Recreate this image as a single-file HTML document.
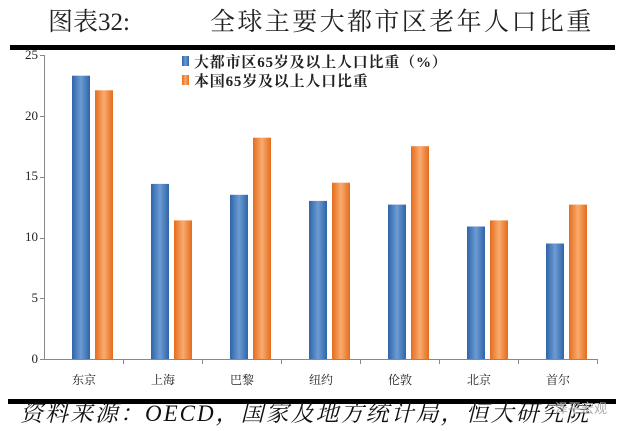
<!DOCTYPE html><html><head><style>body{margin:0;background:#fff;width:620px;height:426px;overflow:hidden}</style></head><body>
<svg width="620" height="426" xmlns="http://www.w3.org/2000/svg">
<defs>
<linearGradient id="b" x1="0" x2="1"><stop offset="0" stop-color="#2e64a8"/><stop offset="0.5" stop-color="#6d9bd3"/><stop offset="1" stop-color="#2e64a8"/></linearGradient>
<linearGradient id="o" x1="0" x2="1"><stop offset="0" stop-color="#e46c1e"/><stop offset="0.5" stop-color="#f9ab6e"/><stop offset="1" stop-color="#e46c1e"/></linearGradient>
</defs>
<g font-family="Liberation Serif, Noto Serif CJK SC, serif" font-size="25" fill="#222">
<text x="48" y="30">图表32:</text>
<text x="210" y="30" letter-spacing="2.4">全球主要大都市区老年人口比重</text>
</g>
<rect x="10" y="45" width="605" height="5" fill="#000"/>
<g font-family="Liberation Serif, serif" font-size="13" fill="#222" text-anchor="end">
<text x="38" y="363">0</text><text x="38" y="302">5</text><text x="38" y="241">10</text><text x="38" y="180">15</text><text x="38" y="120">20</text><text x="38" y="59">25</text>
</g>
<g stroke="#888" stroke-width="1">
<line x1="44.5" y1="55" x2="44.5" y2="359"/>
<line x1="40" y1="55.5" x2="44" y2="55.5"/><line x1="40" y1="116.5" x2="44" y2="116.5"/><line x1="40" y1="177.5" x2="44" y2="177.5"/><line x1="40" y1="238.5" x2="44" y2="238.5"/><line x1="40" y1="298.5" x2="44" y2="298.5"/>
<line x1="40" y1="359.5" x2="598" y2="359.5"/>
<line x1="123.5" y1="359" x2="123.5" y2="364"/><line x1="202.5" y1="359" x2="202.5" y2="364"/><line x1="281.5" y1="359" x2="281.5" y2="364"/><line x1="360.5" y1="359" x2="360.5" y2="364"/><line x1="439.5" y1="359" x2="439.5" y2="364"/><line x1="518.5" y1="359" x2="518.5" y2="364"/><line x1="597.5" y1="359" x2="597.5" y2="364"/>
</g>
<g>
<rect x="72" y="75.7" width="18" height="283.3" fill="url(#b)"/><rect x="95" y="90.3" width="18" height="268.7" fill="url(#o)"/>
<rect x="151" y="183.9" width="18" height="175.1" fill="url(#b)"/><rect x="174" y="220.4" width="18" height="138.6" fill="url(#o)"/>
<rect x="230" y="194.8" width="18" height="164.2" fill="url(#b)"/><rect x="253" y="137.7" width="18" height="221.3" fill="url(#o)"/>
<rect x="309" y="200.9" width="18" height="158.1" fill="url(#b)"/><rect x="332" y="182.7" width="18" height="176.3" fill="url(#o)"/>
<rect x="388" y="204.6" width="18" height="154.4" fill="url(#b)"/><rect x="411" y="146.2" width="18" height="212.8" fill="url(#o)"/>
<rect x="467" y="226.5" width="18" height="132.5" fill="url(#b)"/><rect x="490" y="220.4" width="18" height="138.6" fill="url(#o)"/>
<rect x="546" y="243.5" width="18" height="115.5" fill="url(#b)"/><rect x="569" y="204.6" width="18" height="154.4" fill="url(#o)"/>
</g>
<g font-family="Liberation Serif, Noto Serif CJK SC, serif" font-size="12" fill="#222" text-anchor="middle">
<text x="84" y="384">东京</text><text x="163" y="384">上海</text><text x="242" y="384">巴黎</text><text x="321" y="384">纽约</text><text x="400" y="384">伦敦</text><text x="479" y="384">北京</text><text x="558" y="384">首尔</text>
</g>
<rect x="182" y="56" width="7" height="10" fill="url(#b)"/>
<rect x="182" y="75" width="7" height="10" fill="url(#o)"/>
<g font-family="Liberation Serif, Noto Serif CJK SC, serif" font-size="15" font-weight="bold" fill="#222">
<text x="194" y="67" letter-spacing="0.8">大都市区65岁及以上人口比重（%）</text>
<text x="194" y="86" letter-spacing="0.8">本国65岁及以上人口比重</text>
</g>
<rect x="8" y="399" width="608" height="5" fill="#000"/>
<text x="20" y="421" font-family="Liberation Serif, Noto Serif CJK SC, serif" font-size="23" font-style="italic" fill="#111" letter-spacing="2">资料来源：OECD，国家及地方统计局，恒大研究院</text>
<text x="555" y="413" font-family="Noto Sans CJK SC, sans-serif" font-size="13" fill="#aaa">泽平宏观</text>
</svg>
</body></html>
